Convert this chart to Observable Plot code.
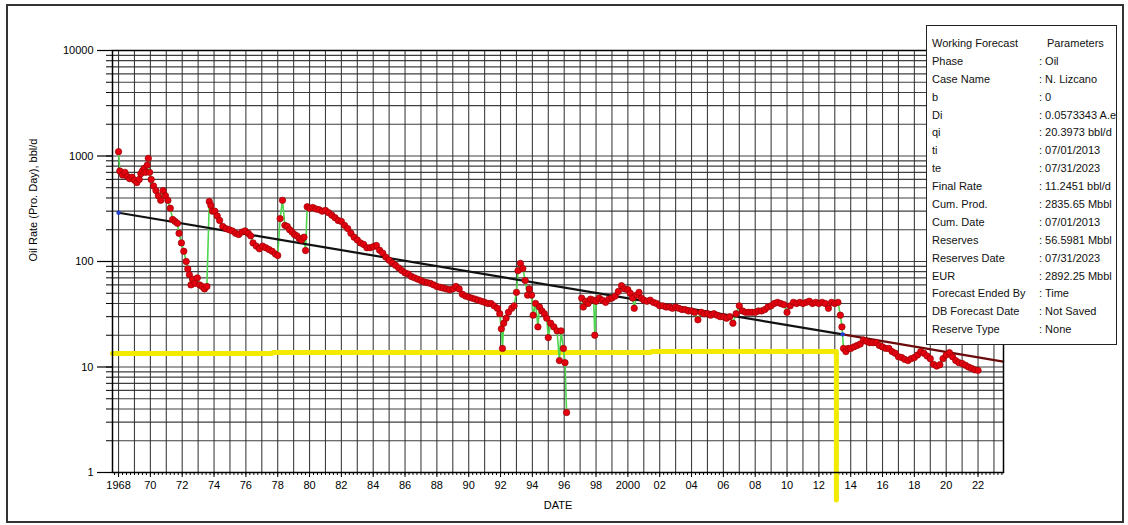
<!DOCTYPE html>
<html><head><meta charset="utf-8">
<script src="https://cdn.jsdelivr.net/npm/d3@7"></script>
<script src="https://cdn.jsdelivr.net/npm/@observablehq/plot@0.6"></script>
<style>
body{margin:0;background:#fff;font-family:"Liberation Sans",Arial,sans-serif;}
#wrap{position:relative;width:1128px;height:525px;overflow:hidden;background:#fff;}
#border{position:absolute;left:6px;top:4px;width:1114px;height:515px;border:2px solid #333;pointer-events:none;}
#legend{position:absolute;left:926px;top:25px;width:191px;height:320px;border:1px solid #222;background:#fff;box-sizing:border-box;font-size:11px;overflow:hidden;padding-top:9px;}
#legend .row{position:relative;height:17.9px;line-height:17.9px;white-space:nowrap;color:#111;}
#legend .k{position:absolute;left:5px;}
#legend .v{position:absolute;left:112px;}
</style></head>
<body>
<div id="wrap"><div id="chart"></div><div id="legend"></div><div id="border"></div></div>
<script>
// Monthly-ish oil rate history (bbl/d); null = data gap
const years = [
1968.00,1968.08,1968.25,1968.40,1968.55,1968.70,1968.85,1969.00,1969.15,1969.30,1969.40,1969.50,1969.60,1969.70,1969.80,1969.87,1969.95,
1970.05,1970.20,1970.35,1970.50,1970.65,1970.80,1970.95,1971.10,1971.25,1971.40,1971.55,1971.70,1971.80,1971.95,
1972.10,1972.25,1972.35,1972.45,1972.55,1972.65,1972.80,1972.95,1973.10,1973.25,1973.40,1973.55,1973.70,1973.80,1973.90,
1974.05,1974.20,1974.35,1974.55,1974.75,1974.95,1975.15,1975.35,1975.55,1975.75,1975.95,1976.15,1976.30,1976.45,1976.65,1976.85,
1977.05,1977.25,1977.45,1977.65,1977.85,1978.00,1978.15,1978.30,1978.45,1978.60,1978.75,1978.90,1979.05,1979.20,1979.35,1979.50,1979.65,1979.75,1979.85,
1980.00,1980.20,1980.40,1980.60,1980.80,1981.00,1981.20,1981.40,1981.60,1981.80,1982.00,1982.20,1982.40,1982.60,1982.80,
1983.00,1983.20,1983.40,1983.60,1983.80,1984.00,1984.20,1984.40,1984.60,1984.80,1985.00,1985.20,1985.40,1985.60,1985.80,
1986.00,1986.20,1986.40,1986.60,1986.80,1987.00,1987.20,1987.40,1987.60,1987.80,1988.00,1988.20,1988.40,1988.60,1988.80,
1989.00,1989.20,1989.40,1989.60,1989.80,1990.00,1990.20,1990.40,1990.60,1990.80,1991.00,1991.20,1991.40,1991.60,1991.80,1991.95,
1992.05,1992.12,1992.20,1992.35,1992.50,1992.70,1992.85,1993.00,1993.10,1993.25,1993.40,1993.55,1993.70,1993.80,1993.95,
1994.05,1994.20,1994.35,1994.45,1994.60,1994.75,1994.90,1995.00,1995.15,1995.35,1995.55,1995.70,1995.80,1995.95,1996.05,1996.15,1996.60,
1997.10,1997.20,1997.35,1997.50,1997.65,1997.85,1997.92,1998.00,1998.20,1998.40,1998.60,1998.80,1999.00,1999.20,1999.40,1999.60,1999.80,
2000.00,2000.15,2000.30,2000.40,2000.55,2000.70,2000.85,2001.00,2001.20,2001.40,2001.60,2001.80,2002.00,2002.20,2002.40,2002.60,2002.80,
2003.00,2003.20,2003.40,2003.60,2003.80,2004.00,2004.20,2004.40,2004.60,2004.80,2005.00,2005.20,2005.40,2005.60,2005.80,
2006.00,2006.20,2006.40,2006.60,2006.80,2007.00,2007.20,2007.40,2007.60,2007.80,2008.00,2008.20,2008.40,2008.60,2008.80,
2009.00,2009.20,2009.40,2009.60,2009.80,2010.00,2010.20,2010.40,2010.60,2010.80,2011.00,2011.20,2011.40,2011.60,2011.80,
2012.00,2012.20,2012.40,2012.60,2012.80,2013.00,2013.20,2013.35,2013.45,2013.55,2013.70,2013.85,
2014.00,2014.20,2014.40,2014.60,2014.80,2015.00,2015.20,2015.40,2015.60,2015.80,2016.00,2016.20,2016.40,2016.60,2016.80,
2017.00,2017.20,2017.40,2017.60,2017.80,2018.00,2018.20,2018.40,2018.60,2018.80,2019.00,2019.20,2019.40,2019.60,2019.80,
2020.00,2020.20,2020.40,2020.60,2020.80,2021.00,2021.20,2021.40,2021.60,2021.80,2022.00
];
const rates = [
1100,720,660,700,640,610,630,590,560,600,680,720,760,700,820,950,700,
600,520,470,420,380,470,420,380,320,250,240,230,185,150,
125,100,85,75,60,68,62,70,60,58,55,58,370,340,300,
300,270,245,215,205,200,195,185,180,190,195,185,175,150,140,132,
140,135,130,125,118,114,255,380,220,215,200,190,180,175,165,160,170,127,330,
320,325,315,310,300,305,290,275,260,245,240,220,205,185,170,
160,150,145,135,135,138,142,128,120,110,103,97,92,87,82,
78,76,72,70,68,66,64,63,62,60,58,57,56,55,54,
55,58,55,49,47,46,45,44,43,42,41,40,40,38,36,32,
23,15,26,29,33,36,38,51,82,96,86,66,48,55,48,
31,40,24,37,34,32,29,19,26,24,22,11.5,22,15,11,3.7,null,
45,37,42,40,44,43,20,42,45,43,41,44,45,47,52,59,55,
54,50,45,36,48,51,45,43,42,43,41,40,38,38,37,37,36,
37,36,35,35,34,34,33,28,33,32,32,31,32,31,30,
30,29,30,26,32,38,34,33,33,33,33,34,34,35,37,
38,40,41,40,39,33,38,41,40,41,40,41,42,40,41,
40,41,40,36,41,40,41,31,24,15,14,15,
15,15.5,16,16.5,18,17.5,17,17,17,16,15.5,15,15,14,13.5,
12.5,12.3,11.8,11.5,12,12.3,13,14,13.5,12.7,12,10.6,10.2,10.5,12,
13,13.7,12.5,11.5,11,10.8,10.4,10,9.7,9.4,9.3
];
// Exponential forecast line (history fit, then forecast segment)
const fitYears = [1968.0, 2013.5];
const fitRates = [290, 20.4];
const fcYears = [2013.5, 2023.58];
const fcRates = [20.4, 11.2451];
// Hand-drawn yellow highlight
const hlYears = [1967.62, 1977.6, 1977.7, 2001.4, 2001.5, 2013.1, 2013.1];
const hlRates = [13.4, 13.4, 13.7, 13.7, 14.0, 14.0, 0.55];
// Axis ticks
const yMajor = [1, 10, 100, 1000, 10000];
const xLabelYears = d3.range(1968, 2024, 2);
// Legend
const legendKeys = ["Working Forecast","Phase","Case Name","b","Di","qi","ti","te","Final Rate","Cum. Prod.","Cum. Date","Reserves","Reserves Date","EUR","Forecast Ended By","DB Forecast Date","Reserve Type"];
const legendVals = ["Parameters",": Oil",": N. Lizcano",": 0",": 0.0573343 A.e",": 20.3973 bbl/d",": 07/01/2013",": 07/31/2023",": 11.2451 bbl/d",": 2835.65 Mbbl",": 07/01/2013",": 56.5981 Mbbl",": 07/31/2023",": 2892.25 Mbbl",": Time",": Not Saved",": None"];

const data = years.map((t, i) => ({t, r: rates[i]}));
const fit = fitYears.map((t, i) => ({t, r: fitRates[i]}));
const fc = fcYears.map((t, i) => ({t, r: fcRates[i]}));
const hl = hlYears.map((t, i) => ({t, r: hlRates[i]}));
const yMinor = [];
for (let k = 0; k < 4; k++) for (let m = 1; m <= 9; m++) yMinor.push(m * 10 ** k);
yMinor.push(10000);
const xYears = d3.range(1968, 2024);
const xQuarters = d3.range(1967.75, 2023.6, 0.25);

const fmtYear = d => (d === 1968 || d === 2000) ? String(d) : String(d % 100).padStart(2, "0");

const chart = Plot.plot({
  width: 1128, height: 525,
  marginLeft: 112, marginRight: 125, marginTop: 50, marginBottom: 53,
  style: {fontFamily: "'Liberation Sans', Arial, sans-serif", fontSize: "11px", background: "transparent", color: "#000"},
  x: {domain: [1967.62, 2023.6], axis: null, label: null},
  y: {type: "log", domain: [1, 10000], axis: null, label: null},
  marks: [
    Plot.gridX(xYears, {stroke: "#2a2a2a", strokeOpacity: 0.9, strokeWidth: 1.1}),
    Plot.gridY(yMinor, {stroke: "#2a2a2a", strokeOpacity: 0.9, strokeWidth: 1.2}),
    Plot.axisY(yMajor, {label: null, tickSize: 15, tickPadding: 4, fontSize: 11, tickFormat: d => String(d), strokeWidth: 1.2}),
    Plot.axisY(yMinor, {label: null, tickSize: 6, text: null}),
    Plot.axisX(xLabelYears, {label: null, tickSize: 5, tickPadding: 4, fontSize: 11, tickFormat: fmtYear}),
    Plot.axisX(xQuarters, {label: null, tickSize: 3, text: null}),
    Plot.text(["Oil Rate (Pro. Day), bbl/d"], {frameAnchor: "left", dx: -79, rotate: -90, fontSize: 11}),
    Plot.text(["DATE"], {frameAnchor: "bottom", dy: 36, fontSize: 11}),
    Plot.line(hl, {x: "t", y: "r", stroke: "#f2ea00", strokeWidth: 5, curve: "linear"}),
    Plot.line(data, {x: "t", y: "r", stroke: "#4fd64f", strokeWidth: 1.6}),
    Plot.line(fit, {x: "t", y: "r", stroke: "#111", strokeWidth: 2.2}),
    Plot.line(fc, {x: "t", y: "r", stroke: "#6b0a0a", strokeWidth: 2.2}),
    Plot.dot(data, {x: "t", y: "r", r: 3.2, fill: "#e40010", stroke: "#9a0000", strokeWidth: 0.7}),
    Plot.dot([fit[0], fc[0]], {x: "t", y: "r", r: 2.2, fill: "#1f3fcf"}),
    Plot.frame({stroke: "#000", strokeWidth: 1.5})
  ]
});
document.getElementById("chart").appendChild(chart);

const leg = d3.select("#legend");
legendKeys.forEach((k, i) => {
  const row = leg.append("div").attr("class", "row");
  row.append("span").attr("class", "k").text(k);
  row.append("span").attr("class", "v").style("left", i === 0 ? "120px" : "112px").text(legendVals[i]);
});
</script>
</body></html>
